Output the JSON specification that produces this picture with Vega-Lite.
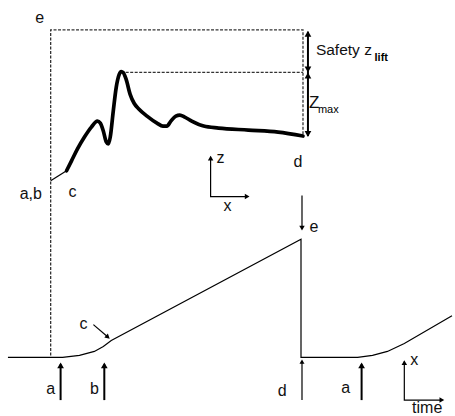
{
  "$schema": "https://vega.github.io/schema/vega-lite/v6.json",
  "width": 455,
  "height": 416,
  "padding": 0,
  "autosize": {"type": "fit", "contains": "padding"},
  "background": "white",
  "config": {"view": {"stroke": null}, "font": "Liberation Sans"},
  "datasets": {
    "lines": [
      {"id": "dA", "role": "dash", "o": 1, "x": 51, "y": 358},
      {"id": "dA", "role": "dash", "o": 2, "x": 51, "y": 30},
      {"id": "dA", "role": "dash", "o": 3, "x": 305, "y": 30},
      {"id": "dA", "role": "dash", "o": 4, "x": 305, "y": 137},
      {"id": "dB", "role": "dash", "o": 1, "x": 122, "y": 73},
      {"id": "dB", "role": "dash", "o": 2, "x": 305, "y": 73},

      {"id": "app", "role": "thin", "o": 1, "x": 51, "y": 182},
      {"id": "app", "role": "thin", "o": 2, "x": 67, "y": 172},

      {"id": "bot", "role": "thin", "o": 1, "x": 8, "y": 360},
      {"id": "bot", "role": "thin", "o": 2, "x": 63, "y": 360},
      {"id": "bot", "role": "thin", "o": 3, "x": 80, "y": 358},
      {"id": "bot", "role": "thin", "o": 4, "x": 95, "y": 354},
      {"id": "bot", "role": "thin", "o": 5, "x": 104, "y": 349},
      {"id": "bot", "role": "thin", "o": 6, "x": 112, "y": 343},
      {"id": "bot", "role": "thin", "o": 7, "x": 303, "y": 241},
      {"id": "bot", "role": "thin", "o": 8, "x": 303, "y": 360},
      {"id": "bot", "role": "thin", "o": 9, "x": 360, "y": 360},
      {"id": "bot", "role": "thin", "o": 10, "x": 375, "y": 358},
      {"id": "bot", "role": "thin", "o": 11, "x": 390, "y": 354},
      {"id": "bot", "role": "thin", "o": 12, "x": 407, "y": 346},
      {"id": "bot", "role": "thin", "o": 13, "x": 455, "y": 318},

      {"id": "zx", "role": "thin", "o": 1, "x": 212, "y": 158},
      {"id": "zx", "role": "thin", "o": 2, "x": 212, "y": 198},
      {"id": "zx", "role": "thin", "o": 3, "x": 248, "y": 198},
      {"id": "xt", "role": "thin", "o": 1, "x": 407, "y": 364},
      {"id": "xt", "role": "thin", "o": 2, "x": 407, "y": 403},
      {"id": "xt", "role": "thin", "o": 3, "x": 445, "y": 403},
      {"id": "cp", "role": "thin", "o": 1, "x": 94, "y": 327},
      {"id": "cp", "role": "thin", "o": 2, "x": 108, "y": 339},
      {"id": "dd", "role": "thin", "o": 1, "x": 304, "y": 403},
      {"id": "dd", "role": "thin", "o": 2, "x": 304, "y": 364},
      {"id": "ee", "role": "thin", "o": 1, "x": 304, "y": 197},
      {"id": "ee", "role": "thin", "o": 2, "x": 304, "y": 230},

      {"id": "dim", "role": "arrow", "o": 1, "x": 310, "y": 32},
      {"id": "dim", "role": "arrow", "o": 2, "x": 310, "y": 137},
      {"id": "a1", "role": "arrow", "o": 1, "x": 61, "y": 403},
      {"id": "a1", "role": "arrow", "o": 2, "x": 61, "y": 367},
      {"id": "b1", "role": "arrow", "o": 1, "x": 105, "y": 403},
      {"id": "b1", "role": "arrow", "o": 2, "x": 105, "y": 367},
      {"id": "a2", "role": "arrow", "o": 1, "x": 364, "y": 403},
      {"id": "a2", "role": "arrow", "o": 2, "x": 364, "y": 367}
    ],
    "curve": [
      {"x": 67, "y": 172}, {"x": 72, "y": 162}, {"x": 78, "y": 150}, {"x": 85, "y": 138},
      {"x": 92, "y": 128}, {"x": 98, "y": 122}, {"x": 101, "y": 124}, {"x": 104, "y": 132},
      {"x": 107, "y": 143}, {"x": 109, "y": 145}, {"x": 111, "y": 138}, {"x": 114, "y": 112},
      {"x": 117, "y": 88}, {"x": 120, "y": 75}, {"x": 122, "y": 72}, {"x": 124, "y": 73},
      {"x": 127, "y": 80}, {"x": 131, "y": 95}, {"x": 135, "y": 104}, {"x": 140, "y": 110},
      {"x": 148, "y": 117}, {"x": 158, "y": 124}, {"x": 164, "y": 127}, {"x": 168, "y": 127},
      {"x": 172, "y": 122}, {"x": 177, "y": 117}, {"x": 181, "y": 116}, {"x": 186, "y": 118},
      {"x": 193, "y": 122}, {"x": 205, "y": 127}, {"x": 220, "y": 129}, {"x": 250, "y": 131},
      {"x": 280, "y": 133}, {"x": 305, "y": 137}
    ],
    "heads": [
      {"x": 310, "y": 35, "ang": 0, "sz": 45},
      {"x": 310, "y": 69, "ang": 180, "sz": 45},
      {"x": 310, "y": 77, "ang": 0, "sz": 45},
      {"x": 310, "y": 134, "ang": 180, "sz": 45},
      {"x": 212, "y": 160, "ang": 0, "sz": 30},
      {"x": 248, "y": 198, "ang": 90, "sz": 30},
      {"x": 304, "y": 229, "ang": 180, "sz": 30},
      {"x": 61, "y": 369, "ang": 0, "sz": 45},
      {"x": 105, "y": 369, "ang": 0, "sz": 45},
      {"x": 304, "y": 365, "ang": 0, "sz": 25},
      {"x": 364, "y": 369, "ang": 0, "sz": 45},
      {"x": 108, "y": 339, "ang": 131, "sz": 30},
      {"x": 407, "y": 366, "ang": 0, "sz": 30},
      {"x": 444, "y": 403, "ang": 90, "sz": 30}
    ],
    "labels": [
      {"t": "e", "x": 40, "y": 18, "role": "c"},
      {"t": "a,b", "x": 31, "y": 195, "role": "c"},
      {"t": "c", "x": 73, "y": 193, "role": "c"},
      {"t": "d", "x": 300, "y": 163, "role": "c"},
      {"t": "z", "x": 222, "y": 159, "role": "c"},
      {"t": "x", "x": 229, "y": 207, "role": "c"},
      {"t": "e", "x": 316, "y": 229, "role": "c"},
      {"t": "c", "x": 84, "y": 326, "role": "c"},
      {"t": "a", "x": 51, "y": 392, "role": "c"},
      {"t": "b", "x": 95, "y": 392, "role": "c"},
      {"t": "d", "x": 284, "y": 394, "role": "c"},
      {"t": "a", "x": 348, "y": 391, "role": "c"},
      {"t": "x", "x": 417, "y": 363, "role": "c"},
      {"t": "time", "x": 430, "y": 411, "role": "c"},
      {"t": "Safety z", "x": 318, "y": 50, "role": "l"},
      {"t": "Z", "x": 311, "y": 104, "role": "z"},
      {"t": "lift", "x": 377, "y": 58, "role": "sb"},
      {"t": "max", "x": 320, "y": 111, "role": "s"}
    ]
  },
  "encoding": {
    "x": {"field": "x", "type": "quantitative", "scale": {"domain": [0, 455], "nice": false, "zero": false}, "axis": null},
    "y": {"field": "y", "type": "quantitative", "scale": {"domain": [0, 416], "nice": false, "zero": false, "reverse": true}, "axis": null}
  },
  "layer": [
    {
      "data": {"name": "lines"},
      "transform": [{"filter": "datum.role === 'dash'"}],
      "mark": {"type": "line", "color": "#333", "strokeWidth": 1.3, "strokeDash": [3, 1.5]},
      "encoding": {"detail": {"field": "id"}, "order": {"field": "o", "type": "quantitative"}}
    },
    {
      "data": {"name": "lines"},
      "transform": [{"filter": "datum.role === 'thin'"}],
      "mark": {"type": "line", "color": "#000", "strokeWidth": 1.2},
      "encoding": {"detail": {"field": "id"}, "order": {"field": "o", "type": "quantitative"}}
    },
    {
      "data": {"name": "lines"},
      "transform": [{"filter": "datum.role === 'arrow'"}],
      "mark": {"type": "line", "color": "#000", "strokeWidth": 2},
      "encoding": {"detail": {"field": "id"}, "order": {"field": "o", "type": "quantitative"}}
    },
    {
      "data": {"name": "curve"},
      "mark": {"type": "line", "color": "#000", "strokeWidth": 3.7, "interpolate": "monotone", "strokeCap": "round"},
      "encoding": {}
    },
    {
      "data": {"name": "heads"},
      "mark": {"type": "point", "shape": "triangle", "filled": true, "color": "#000", "opacity": 1},
      "encoding": {
        "angle": {"field": "ang", "type": "quantitative", "scale": null},
        "size": {"field": "sz", "type": "quantitative", "scale": null}
      }
    },
    {
      "data": {"name": "labels"},
      "transform": [{"filter": "datum.role === 'c'"}],
      "mark": {"type": "text", "fontSize": 16, "align": "center", "baseline": "middle", "fill": "#111"},
      "encoding": {"text": {"field": "t"}}
    },
    {
      "data": {"name": "labels"},
      "transform": [{"filter": "datum.role === 'l'"}],
      "mark": {"type": "text", "fontSize": 15.5, "align": "left", "baseline": "middle", "fill": "#111"},
      "encoding": {"text": {"field": "t"}}
    },
    {
      "data": {"name": "labels"},
      "transform": [{"filter": "datum.role === 'z'"}],
      "mark": {"type": "text", "fontSize": 17, "align": "left", "baseline": "middle", "fill": "#111"},
      "encoding": {"text": {"field": "t"}}
    },
    {
      "data": {"name": "labels"},
      "transform": [{"filter": "datum.role === 's'"}],
      "mark": {"type": "text", "fontSize": 11, "align": "left", "baseline": "middle", "fill": "#000"},
      "encoding": {"text": {"field": "t"}}
    },
    {
      "data": {"name": "labels"},
      "transform": [{"filter": "datum.role === 'sb'"}],
      "mark": {"type": "text", "fontSize": 11, "fontWeight": "bold", "align": "left", "baseline": "middle", "fill": "#000"},
      "encoding": {"text": {"field": "t"}}
    }
  ]
}
